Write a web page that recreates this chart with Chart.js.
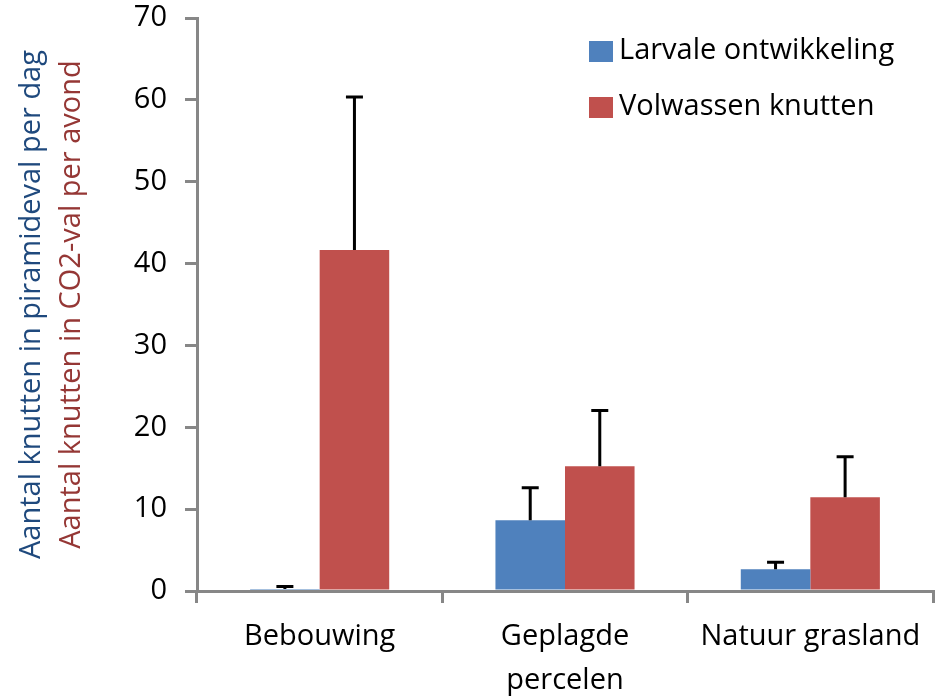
<!DOCTYPE html>
<html>
<head>
<meta charset="utf-8">
<script src="https://cdn.jsdelivr.net/npm/chart.js@4.4.1/dist/chart.umd.min.js"></script>
<style>
  html, body { margin: 0; padding: 0; background: #fff; }
  #wrap { width: 938px; height: 697px; }
</style>
</head>
<body>
<div id="wrap"><canvas id="chart" width="938" height="697"></canvas></div>
<script>
// chart data
const categories = ['Bebouwing', ['Geplagde', 'percelen'], 'Natuur grasland'];
const larvaal = [0.25, 8.65, 2.65];
const larvaalErr = [0.3, 3.95, 0.85];
const volwassen = [41.65, 15.25, 11.45];
const volwassenErr = [18.7, 6.8, 4.95];
const yTicks = [0, 10, 20, 30, 40, 50, 60, 70];

const FONT = '"Open Sans", "DejaVu Sans", sans-serif';
const AXIS_GREY = '#878787';

// error bars (upward only, with cap)
const errorBars = {
  id: 'errorBars',
  afterDatasetsDraw(chart) {
    const ctx = chart.ctx;
    const y = chart.scales.y;
    chart.data.datasets.forEach((ds, i) => {
      const meta = chart.getDatasetMeta(i);
      meta.data.forEach((bar, j) => {
        const top = y.getPixelForValue(ds.data[j] + ds.errors[j]);
        ctx.save();
        ctx.strokeStyle = '#000';
        ctx.lineWidth = 3;
        ctx.beginPath();
        ctx.moveTo(bar.x, bar.y);
        ctx.lineTo(bar.x, top);
        ctx.moveTo(bar.x - 8.5, top);
        ctx.lineTo(bar.x + 8.5, top);
        ctx.stroke();
        ctx.restore();
      });
    });
  }
};

// two-coloured y axis title
const yTitle = {
  id: 'yTitle',
  afterDraw(chart) {
    const ctx = chart.ctx;
    const area = chart.chartArea;
    const cy = (area.top + area.bottom) / 2;
    const lines = [
      { text: 'Aantal knutten in piramideval per dag', color: '#1F497D', x: 32 },
      { text: 'Aantal knutten in CO2-val per avond', color: '#953735', x: 72 }
    ];
    ctx.save();
    ctx.font = '29px ' + FONT;
    ctx.textAlign = 'center';
    ctx.textBaseline = 'middle';
    lines.forEach(l => {
      ctx.save();
      ctx.translate(l.x, cy);
      ctx.rotate(-Math.PI / 2);
      ctx.fillStyle = l.color;
      ctx.fillText(l.text, 0, 0);
      ctx.restore();
    });
    ctx.restore();
  }
};

// legend in the top right corner
const legendBox = {
  id: 'legendBox',
  afterDraw(chart) {
    const ctx = chart.ctx;
    ctx.save();
    ctx.font = '29px ' + FONT;
    ctx.textBaseline = 'middle';
    chart.data.datasets.forEach((ds, i) => {
      const top = 41 + i * 56;
      ctx.fillStyle = ds.backgroundColor;
      ctx.fillRect(589, top, 24, 21);
      ctx.fillStyle = '#000';
      ctx.fillText(ds.label, 619, top + 10);
    });
    ctx.restore();
  }
};

new Chart(document.getElementById('chart'), {
  type: 'bar',
  data: {
    labels: categories,
    datasets: [
      { label: 'Larvale ontwikkeling', data: larvaal, errors: larvaalErr, backgroundColor: '#4F81BD' },
      { label: 'Volwassen knutten', data: volwassen, errors: volwassenErr, backgroundColor: '#C0504D' }
    ]
  },
  options: {
    responsive: false,
    animation: false,
    layout: { padding: { top: 18, right: 5, left: 0, bottom: 0 } },
    datasets: {
      bar: { barPercentage: 1, categoryPercentage: 0.567 }
    },
    plugins: {
      legend: { display: false },
      tooltip: { enabled: false }
    },
    scales: {
      x: {
        offset: true,
        grid: { offset: true, drawOnChartArea: false, color: AXIS_GREY, lineWidth: 3, tickLength: 12 },
        border: { color: AXIS_GREY, width: 3 },
        ticks: { color: '#000', font: { family: FONT, size: 29, lineHeight: 1.5 }, padding: 12, maxRotation: 0 },
        afterFit(scale) { scale.height = 106; scale.paddingLeft = 0; scale.paddingRight = 0; }
      },
      y: {
        min: 0,
        max: 70,
        afterBuildTicks(scale) { scale.ticks = yTicks.map(v => ({ value: v })); },
        grid: { drawOnChartArea: false, color: AXIS_GREY, lineWidth: 3, tickLength: 12 },
        border: { color: AXIS_GREY, width: 3 },
        ticks: { color: '#000', font: { family: FONT, size: 29 }, padding: 18 },
        afterFit(scale) { scale.width = 197; scale.paddingTop = 0; scale.paddingBottom = 0; }
      }
    }
  },
  plugins: [errorBars, yTitle, legendBox]
});
</script>
</body>
</html>
